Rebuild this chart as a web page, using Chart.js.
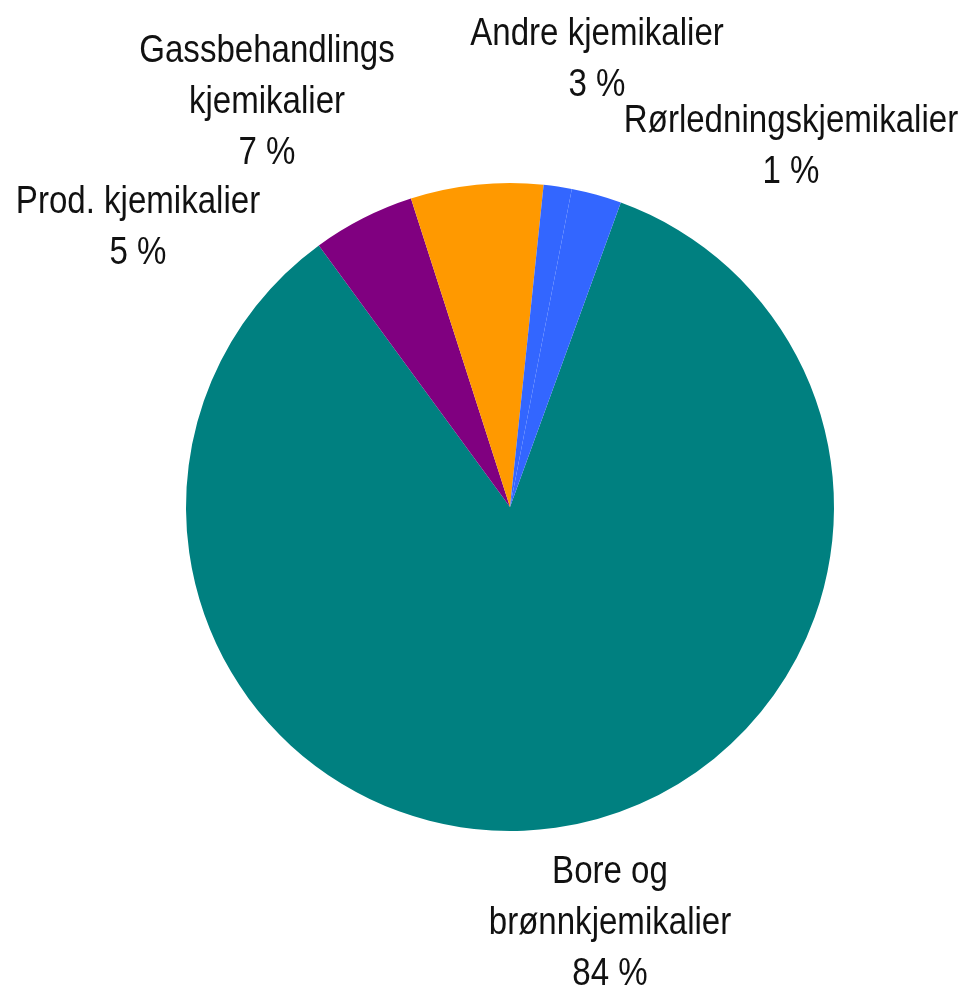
<!DOCTYPE html>
<html>
<head>
<meta charset="utf-8">
<script src="https://cdn.jsdelivr.net/npm/chart.js@4"></script>
<style>
  html, body { margin: 0; padding: 0; background: #fff; }
  #wrap { width: 966px; height: 993px; position: relative; }
</style>
</head>
<body>
<div id="wrap"><canvas id="pie"></canvas></div>
<script>
// data
const categories = [
  ["Bore og", "brønnkjemikalier"],
  ["Prod. kjemikalier"],
  ["Gassbehandlings", "kjemikalier"],
  ["Rørledningskjemikalier"],
  ["Andre kjemikalier"]
];
const shares = [84.4, 5.1, 6.6, 1.4, 2.5];
const colors = ["#008080", "#800080", "#ff9900", "#3366ff", "#3366ff"];

// where each label block is centred (x) and its first baseline (y)
const labelAnchors = [
  { x: 610, y: 883 },
  { x: 138, y: 213 },
  { x: 267, y: 62 },
  { x: 791, y: 132 },
  { x: 597, y: 45 }
];
const labelFont = '38px "Liberation Sans", Arial, sans-serif';
const narrow = 0.87; // squeeze to look like a narrow face
const lineGap = 51;

const sliceLabels = {
  id: "sliceLabels",
  afterDraw(chart) {
    const ctx = chart.ctx;
    categories.forEach((lines, i) => {
      const a = labelAnchors[i];
      const all = lines.concat([Math.round(shares[i]) + " %"]);
      all.forEach((t, j) => {
        ctx.save();
        ctx.font = labelFont;
        ctx.fillStyle = "#111";
        ctx.textAlign = "center";
        ctx.textBaseline = "alphabetic";
        ctx.translate(a.x, a.y + j * lineGap);
        ctx.scale(narrow, 1);
        ctx.fillText(t, 0, 0);
        ctx.restore();
      });
    });
  }
};

new Chart(document.getElementById("pie"), {
  type: "pie",
  data: {
    labels: categories.map(l => l.join(" ")),
    datasets: [{
      data: shares,
      backgroundColor: colors,
      borderWidth: 0
    }]
  },
  options: {
    responsive: true,
    maintainAspectRatio: false,
    animation: false,
    rotation: 20,
    layout: { padding: { left: 186, right: 132, top: 183, bottom: 162 } },
    plugins: {
      legend: { display: false },
      tooltip: { enabled: false }
    }
  },
  plugins: [sliceLabels]
});
</script>
</body>
</html>
